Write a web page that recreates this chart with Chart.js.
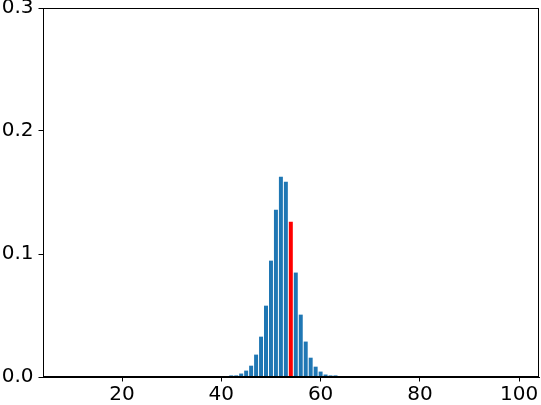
<!DOCTYPE html>
<html>
<head>
<meta charset="utf-8">
<script src="https://cdn.jsdelivr.net/npm/chart.js@4/dist/chart.umd.min.js"></script>
<style>
html,body{margin:0;padding:0;background:#fff;}
#wrap{width:541px;height:405px;position:relative;}
</style>
</head>
<body>
<div id="wrap"><canvas id="c" width="541" height="405"></canvas></div>
<script>
const xValues = [42,43,44,45,46,47,48,49,50,51,52,53,54,55,56,57,58,59,60,61,62,63];
const yValues = [0.0013,0.0013,0.0028,0.0052,0.0092,0.0182,0.0328,0.0580,0.0946,0.1360,0.1628,0.1587,0.1262,0.0849,0.0507,0.0288,0.0157,0.0084,0.0044,0.0020,0.0013,0.0013];
const highlightX = 54;
const xTickValues = [20,40,60,80,100];
const yTickValues = [0.0,0.1,0.2,0.3];

const blue = '#1f77b4', red = '#ff0000';
const points = xValues.map((x,i)=>({x:x,y:yValues[i]}));
const colors = xValues.map(x => x === highlightX ? red : blue);

const frame = {
  id:'frame',
  afterDraw(chart){
    const a = chart.chartArea, ctx = chart.ctx;
    ctx.save();
    ctx.strokeStyle = '#000';
    ctx.lineWidth = 1;
    ctx.strokeRect(Math.round(a.left)+0.5, Math.round(a.top)+0.5, Math.round(a.right-a.left)-1, Math.round(a.bottom-a.top)-1);
    ctx.restore();
  }
};

const tickFont = { family:'DejaVu Sans', size:20 };

new Chart(document.getElementById('c'), {
  type:'bar',
  data:{ datasets:[{ data:points, backgroundColor:colors, borderWidth:0, barPercentage:1.0, categoryPercentage:0.8 }] },
  options:{
    responsive:false, animation:false,
    layout:{ padding:{ top:8, right:2, left:0, bottom:0 } },
    plugins:{ legend:{display:false}, tooltip:{enabled:false} },
    scales:{
      x:{
        type:'linear', min:4.07, max:104.0, offset:false,
        afterBuildTicks(s){ s.ticks = xTickValues.map(v=>({value:v})); },
        afterFit(s){ s.height = 28; s.paddingLeft = 0; s.paddingRight = 0; },
        grid:{ offset:false, drawOnChartArea:false, drawTicks:true, tickLength:4.5, tickColor:'#000', color:'#000' },
        border:{ display:true, color:'#000' },
        ticks:{ color:'#000', padding:1, maxRotation:0, font:tickFont }
      },
      y:{
        min:0, max:0.3,
        afterBuildTicks(s){ s.ticks = yTickValues.map(v=>({value:v})); },
        afterFit(s){ s.width = 43; s.paddingTop = 0; s.paddingBottom = 0; },
        grid:{ drawOnChartArea:false, drawTicks:true, tickLength:4.5, tickColor:'#000', color:'#000' },
        border:{ display:true, color:'#000' },
        ticks:{ color:'#000', padding:5, font:tickFont, callback:v=>Number(v).toFixed(1) }
      }
    }
  },
  plugins:[frame]
});
</script>
</body>
</html>
